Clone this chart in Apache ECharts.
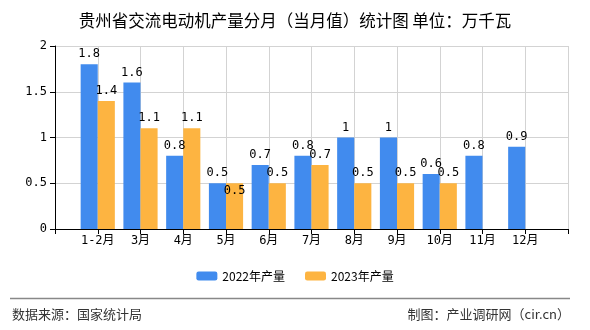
<!DOCTYPE html>
<html><head><meta charset="utf-8">
<script src="https://cdn.jsdelivr.net/npm/echarts@6/dist/echarts.min.js"></script>
<style>html,body{margin:0;padding:0;background:#fff}#c{width:590px;height:330px}</style>
</head><body><div id="c"></div>
<script>
var categories = ["", "1-2月", "3月", "4月", "5月", "6月", "7月", "8月", "9月", "10月", "11月", "12月", ""];
var values2022 = [null, 1.8, 1.6, 0.8, 0.5, 0.7, 0.8, 1, 1, 0.6, 0.8, 0.9, null];
var values2023 = [null, 1.4, 1.1, 1.1, 0.5, 0.5, 0.7, 0.5, 0.5, 0.5, null, null, null];
var yTicks = [0, 0.5, 1, 1.5, 2];
var seriesNames = ["2022年产量", "2023年产量"];
var titleText = "贵州省交流电动机产量分月（当月值）统计图 单位：万千瓦";
var sourceText = "数据来源：国家统计局";
var makerText = "制图：产业调研网（cir.cn）";

var font = "'Noto Sans CJK SC', sans-serif";
var monoFont = "'DejaVu Sans Mono', 'Noto Sans CJK SC', monospace";
var chart = echarts.init(document.getElementById('c'));

// the reference pushes an overlapping label (5月, 2023) inside the bar top
var data2023 = values2023.map(function (v, i) {
  if (i === 4) return {value: v, label: {position: 'insideTop', distance: 2}};
  return v;
});

chart.setOption({
  animation: false,
  textStyle: {fontFamily: font},
  title: {text: titleText, left: 'center', top: 7,
    textStyle: {fontSize: 16.5, fontWeight: 'normal', color: '#000', fontFamily: font}},
  legend: {bottom: 43, itemWidth: 21, itemHeight: 9, itemGap: 20,
    textStyle: {fontSize: 12, color: '#000', fontFamily: font},
    data: seriesNames},
  grid: {left: 55, right: 22, top: 46, bottom: 101},
  xAxis: {type: 'category', data: categories, boundaryGap: false,
    axisLine: {lineStyle: {color: '#000'}},
    axisTick: {show: true, length: 5, lineStyle: {color: '#000'}},
    axisLabel: {color: '#000', fontSize: 12, interval: 0, margin: 6, fontFamily: monoFont},
    splitLine: {show: true, lineStyle: {color: '#d3d3d3'}}},
  yAxis: {type: 'value', min: yTicks[0], max: yTicks[yTicks.length - 1], interval: 0.5,
    axisLine: {show: true, lineStyle: {color: '#000'}},
    axisTick: {show: true, length: 5, lineStyle: {color: '#000'}},
    axisLabel: {color: '#000', fontSize: 12, margin: 8, fontFamily: monoFont},
    splitLine: {lineStyle: {color: '#d3d3d3'}}},
  series: [
    {name: seriesNames[0], type: 'bar', data: values2022, barGap: '0%', barCategoryGap: '20%',
     itemStyle: {color: '#418BEE'},
     label: {show: true, position: 'top', color: '#000', fontSize: 12, distance: 4, fontFamily: monoFont}},
    {name: seriesNames[1], type: 'bar', data: data2023,
     itemStyle: {color: '#FDB441'},
     label: {show: true, position: 'top', color: '#000', fontSize: 12, distance: 4, fontFamily: monoFont}}
  ],
  graphic: [
    {type: 'line', shape: {x1: 10, y1: 298.5, x2: 570, y2: 298.5}, style: {stroke: '#888', lineWidth: 1.5}},
    {type: 'text', left: 12, top: 308, style: {text: sourceText, fontSize: 13, fill: '#333', fontFamily: font}},
    {type: 'text', right: 20, top: 308, style: {text: makerText, fontSize: 13, fill: '#333', fontFamily: font}}
  ]
});
</script></body></html>
